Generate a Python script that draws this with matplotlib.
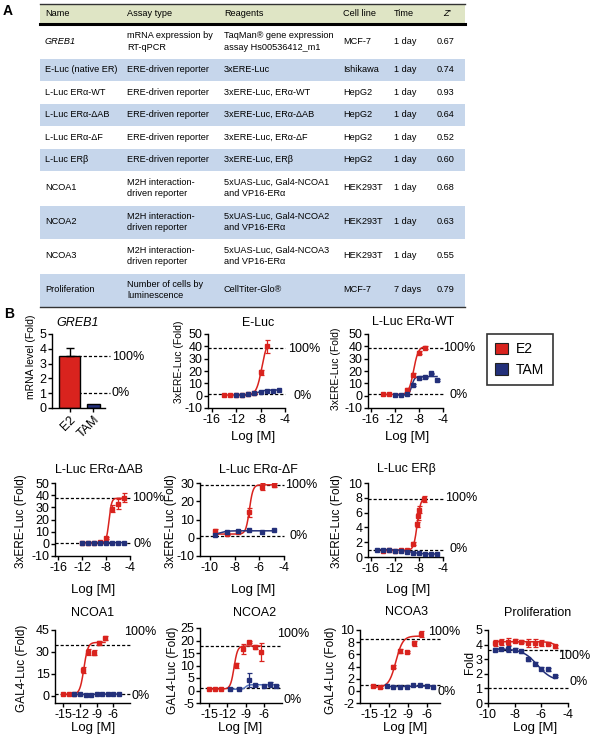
import numpy as np
import matplotlib
matplotlib.use('Agg')
import matplotlib.pyplot as plt
from matplotlib.patches import Rectangle, Patch

plt.rcParams['font.family'] = ['Liberation Sans', 'DejaVu Sans']
plt.rcParams['axes.unicode_minus'] = False

# ---------------- table (panel A) ----------------
TAB_NAMES = ['GREB1', 'E-Luc (native ER)', 'L-Luc ERα-WT', 'L-Luc ERα-ΔAB', 'L-Luc ERα-ΔF',
             'L-Luc ERβ', 'NCOA1', 'NCOA2', 'NCOA3', 'Proliferation']
TAB_ASSAY = ['mRNA expression by\nRT-qPCR'] + ['ERE-driven reporter'] * 5 + \
            ['M2H interaction-\ndriven reporter'] * 3 + ['Number of cells by\nluminescence']
TAB_REAGENTS = ['TaqMan® gene expression\nassay Hs00536412_m1', '3xERE-Luc', '3xERE-Luc, ERα-WT',
                '3xERE-Luc, ERα-ΔAB', '3xERE-Luc, ERα-ΔF', '3xERE-Luc, ERβ',
                '5xUAS-Luc, Gal4-NCOA1\nand VP16-ERα', '5xUAS-Luc, Gal4-NCOA2\nand VP16-ERα',
                '5xUAS-Luc, Gal4-NCOA3\nand VP16-ERα', 'CellTiter-Glo®']
TAB_CELLS = ['MCF-7', 'Ishikawa', 'HepG2', 'HepG2', 'HepG2', 'HepG2', 'HEK293T', 'HEK293T', 'HEK293T', 'MCF-7']
TAB_TIME = ['1 day'] * 9 + ['7 days']
TAB_Z = [0.67, 0.74, 0.93, 0.64, 0.52, 0.60, 0.68, 0.63, 0.55, 0.79]
TAB_HEADER = ['Name', 'Assay type', 'Reagents', 'Cell line', 'Time', "Z'"]

# ---------------- panel B data ----------------
# fits: [value at low dose, value at high dose, logEC50, hill]
GREB1_GROUPS = ['E2', 'TAM']
GREB1_FOLD = [3.5, 0.25]
GREB1_ERR = [0.55, 0.0]
GREB1_REF = [3.5, 1.0]

ELUC_E2_X = [-14, -13, -12, -11, -10, -9, -8, -7]
ELUC_E2_Y = [0.5, 0.5, 0.5, 0.5, 1.0, 2.0, 19.0, 40.0]
ELUC_E2_ERR = [0, 0, 0, 0, 0, 0.5, 2.0, 5.0]
ELUC_TAM_X = [-12, -11, -10, -9, -8, -7, -6, -5]
ELUC_TAM_Y = [0.5, 0.5, 1.0, 2.0, 3.0, 3.5, 4.0, 4.5]
ELUC_TAM_ERR = [0, 0, 0, 0, 0, 0, 0, 0]
ELUC_E2_FIT = [0.5, 45, -7.8, 1.0]
ELUC_TAM_FIT = [0.5, 4.6, -8.5, 0.8]
ELUC_REF = [39, 1]

WT_E2_X = [-14, -13, -10, -9, -8, -7]
WT_E2_Y = [1.0, 1.0, 5.0, 17.0, 35.0, 39.0]
WT_E2_ERR = [0, 0, 1.0, 1.5, 1.0, 1.0]
WT_TAM_X = [-12, -11, -10, -9, -8, -7, -6, -5]
WT_TAM_Y = [0.5, 0.5, 1.0, 8.5, 14.5, 15.0, 18.0, 12.5]
WT_TAM_ERR = [0, 0, 0, 0.8, 1.0, 0.5, 0.5, 0.8]
WT_E2_FIT = [1.0, 40, -8.9, 1.1]
WT_TAM_FIT = [0.5, 15.5, -9.2, 1.8]
WT_REF = [39, 1]

DAB_E2_X = [-12, -11, -10, -9, -8, -7, -6, -5]
DAB_E2_Y = [1.0, 1.0, 1.0, 1.5, 5.0, 29.0, 33.0, 38.0]
DAB_E2_ERR = [0, 0, 0, 0.5, 1.0, 3.0, 4.0, 3.5]
DAB_TAM_X = [-12, -11, -10, -9, -8, -7, -6, -5]
DAB_TAM_Y = [1.0, 0.8, 0.8, 0.9, 1.0, 0.9, 1.0, 1.0]
DAB_TAM_ERR = [0, 0, 0, 0, 0, 0, 0, 0]
DAB_E2_FIT = [1.0, 37.5, -7.5, 2.0]
DAB_TAM_FIT = [0.85, 1.0, -9, 1.0]
DAB_REF = [38, 1]

DF_E2_X = [-9.6, -8.6, -7.7, -6.8, -5.8, -4.8]
DF_E2_Y = [3.5, 2.0, 3.0, 14.0, 28.0, 29.0]
DF_E2_ERR = [1.5, 0.3, 0.5, 2.5, 2.0, 1.0]
DF_TAM_X = [-9.6, -8.6, -7.7, -6.8, -5.8, -4.8]
DF_TAM_Y = [1.5, 3.0, 3.5, 4.0, 3.0, 4.0]
DF_TAM_ERR = [0, 0, 0, 0, 0, 0]
DF_E2_FIT = [2.0, 29.0, -6.8, 3.0]
DF_TAM_FIT = [1.5, 3.8, -9.2, 1.5]
DF_REF = [29, 1]

ERB_E2_X = [-14, -13, -12, -11, -10, -9, -8.4, -8.2, -8.0, -7.2]
ERB_E2_Y = [0.8, 0.9, 0.8, 0.9, 1.0, 1.8, 4.4, 5.5, 6.4, 7.8]
ERB_E2_ERR = [0, 0, 0, 0, 0, 0.2, 0.3, 0.5, 0.5, 0.4]
ERB_TAM_X = [-15, -14, -13, -12, -11, -10, -9, -8, -7, -6, -5]
ERB_TAM_Y = [1.0, 0.95, 0.9, 0.85, 0.8, 0.7, 0.6, 0.5, 0.45, 0.4, 0.4]
ERB_TAM_ERR = [0] * 11
ERB_E2_FIT = [0.9, 8.0, -8.3, 1.5]
ERB_TAM_FIT = [1.0, 0.4, -9.5, 0.5]
ERB_REF = [7.8, 1]

NC1_E2_X = [-15, -14, -13, -11.5, -10.5, -9.5, -8.5, -7.5]
NC1_E2_Y = [1.0, 1.0, 1.0, 17.5, 30.0, 29.5, 36.0, 39.5]
NC1_E2_ERR = [0, 0, 0, 2.0, 2.0, 1.5, 1.5, 1.5]
NC1_TAM_X = [-13, -12, -11, -10, -9, -8, -7, -6, -5]
NC1_TAM_Y = [1.0, 1.0, 0.8, 0.8, 1.0, 1.0, 1.2, 1.2, 1.0]
NC1_TAM_ERR = [0] * 9
NC1_E2_FIT = [1.0, 36.5, -11.3, 1.2]
NC1_TAM_FIT = [0.9, 1.1, -9, 1.0]
NC1_REF = [35, 1]

NC2_E2_X = [-15, -14, -13, -10.5, -9.5, -8.5, -7.5, -6.5]
NC2_E2_Y = [0.6, 0.6, 0.8, 10.2, 16.5, 19.5, 17.5, 15.5]
NC2_E2_ERR = [0, 0, 0, 1.0, 2.0, 0.3, 0.8, 3.5]
NC2_TAM_X = [-11.5, -10, -8.5, -7.5, -6, -5, -4]
NC2_TAM_Y = [0.5, 0.5, 4.2, 2.2, 1.8, 2.5, 2.0]
NC2_TAM_ERR = [0, 0, 2.8, 0.3, 0, 1.0, 0.4]
NC2_E2_FIT = [0.6, 17.8, -10.9, 1.5]
NC2_TAM_FIT = [0.5, 2.3, -9.0, 2.0]
NC2_REF = [18, 1]

NC3_E2_X = [-14.4, -13.4, -11.3, -10.3, -9.2, -8.0, -7.0]
NC3_E2_Y = [0.8, 0.6, 4.0, 6.6, 6.4, 7.8, 9.4]
NC3_E2_ERR = [0.2, 0.2, 0.3, 0.3, 0.2, 0.4, 0.5]
NC3_TAM_X = [-12.3, -11.3, -10.3, -9.2, -8.2, -7.1, -6.1, -5.1]
NC3_TAM_Y = [0.8, 0.7, 0.6, 0.7, 1.0, 0.9, 0.8, 0.6]
NC3_TAM_ERR = [0] * 8
NC3_E2_FIT = [0.6, 9.0, -10.9, 0.8]
NC3_TAM_FIT = [0.7, 0.8, -9, 1.0]
NC3_REF = [8.6, 1]

PRO_X = [-9.5, -9.0, -8.5, -8.0, -7.5, -7.0, -6.5, -6.0, -5.5, -5.0]
PRO_E2_Y = [4.1, 4.2, 4.2, 4.25, 4.2, 4.1, 4.1, 4.1, 4.05, 3.9]
PRO_E2_ERR = [0.2, 0.2, 0.25, 0.1, 0.1, 0.25, 0.25, 0.2, 0.1, 0.1]
PRO_TAM_Y = [3.65, 3.7, 3.7, 3.65, 3.55, 3.0, 2.7, 2.35, 2.3, 1.85]
PRO_TAM_ERR = [0.1, 0.1, 0.2, 0.1, 0.1, 0.1, 0.1, 0.1, 0.1, 0.05]
PRO_E2_FIT = [4.2, 3.6, -4.8, 1.5]
PRO_TAM_FIT = [3.7, 1.5, -6.3, 0.8]
PRO_REF = [3.6, 1]

RED = '#d9231e'
NAVY = '#23307a'
PALE_NAVY = '#5876bd'
ROW_BLUE = '#c6d6eb'
HEAD_BG = '#dfe5c5'

W, H = 590, 743
fig = plt.figure(figsize=(W / 100, H / 100), dpi=100)

# overlay in pixel coordinates for table and free text
ov = fig.add_axes([0, 0, 1, 1])
ov.set_xlim(0, W)
ov.set_ylim(H, 0)
ov.axis('off')


def box(left, top, width, height):
    return fig.add_axes([left / W, 1 - (top + height) / H, width / W, height / H], facecolor='none')


# ---- panel A: table ----
TFS = 6.6
ov.text(3, 4, 'A', fontsize=10, fontweight='bold', va='top')
col_x = [45, 127, 224, 343, 394, 437]
ov.add_patch(Rectangle((40, 4), 425, 19, facecolor=HEAD_BG, edgecolor='none'))
ov.plot([40, 465], [4, 4], color='#333333', lw=1.0)
ov.plot([40, 465], [23.5, 23.5], color='black', lw=2.2)
for x, t in zip(col_x, TAB_HEADER):
    if t == "Z'":
        ov.text(x + 6, 14, t, fontsize=TFS, va='center', style='italic')
    else:
        ov.text(x, 14, t, fontsize=TFS, va='center')

y = 24.5
for i in range(len(TAB_NAMES)):
    cells = [TAB_NAMES[i], TAB_ASSAY[i], TAB_REAGENTS[i], TAB_CELLS[i], TAB_TIME[i], f'{TAB_Z[i]:.2f}']
    nl = max(c.count('\n') + 1 for c in cells)
    h = 22.5 if nl == 1 else 34
    if i % 2 == 1:
        ov.add_patch(Rectangle((40, y + 0.5), 425, h - 1, facecolor=ROW_BLUE, edgecolor='none'))
    for j, (x, c) in enumerate(zip(col_x, cells)):
        ov.text(x, y + h / 2, c, fontsize=TFS, va='center', linespacing=1.3,
                style='italic' if (i == 0 and j == 0) else 'normal')
    y += h
ov.plot([40, 465], [y, y], color='#333333', lw=1.0)

# ---- panel B ----
ov.text(4, 307, 'B', fontsize=10, fontweight='bold', va='top')


def style(ax, xlim, xticks, ylim, yticks):
    ax.set_xlim(xlim)
    ax.set_ylim(ylim)
    ax.set_xticks(xticks)
    ax.set_yticks(yticks)
    for s in ['top', 'right']:
        ax.spines[s].set_visible(False)
    for s in ['left', 'bottom']:
        ax.spines[s].set_linewidth(1.0)
    ax.tick_params(length=3, width=1, labelsize=9, pad=1)


def series(ax, x, yv, err, fit, color, fit_color=None):
    x, yv, err = np.asarray(x, float), np.asarray(yv, float), np.asarray(err, float)
    a, b, c, hill = fit
    xs = np.linspace(x.min(), x.max(), 200)
    ax.plot(xs, a + (b - a) / (1 + 10 ** ((c - xs) * hill)), color=fit_color or color, lw=1.1, zorder=3)
    m = err > 0
    ax.errorbar(x[m], yv[m], yerr=err[m], fmt='none', ecolor=color, elinewidth=0.9,
                capsize=1.8, capthick=0.9, zorder=4)
    ax.plot(x, yv, 's', color=color, ms=2.6, zorder=5)


def refs(ax, levels, xmin=0.0, xmax=1.0):
    for lv in levels:
        ax.axhline(lv, xmin=xmin, xmax=xmax, color='black', lw=0.9, ls=(0, (2.5, 1.6)),
                   clip_on=False, zorder=1)


# GREB1 bar chart
ax = box(52, 334, 53, 74)
style(ax, (-0.75, 1.5), [0, 1], (0, 5), range(0, 6))
ax.bar([0, 1], GREB1_FOLD, width=[0.9, 0.55], color=[RED, NAVY], edgecolor='black', lw=1, zorder=2)
ax.errorbar([0], [GREB1_FOLD[0]], yerr=[[0], [GREB1_ERR[0]]], fmt='none', ecolor='black',
            elinewidth=1, capsize=3, capthick=1, zorder=3)
refs(ax, GREB1_REF, xmin=0.4, xmax=1.1)
ax.set_xticklabels(GREB1_GROUPS, rotation=45, ha='right', rotation_mode='anchor')
ov.text(78, 323, 'GREB1', fontsize=9, style='italic', ha='center', va='center')
ov.text(31, 357, 'mRNA level (Fold)', fontsize=7.5, rotation=90, ha='center', va='center')
ov.text(112, 357, '100%', fontsize=9, va='center')
ov.text(112, 393, '0%', fontsize=9, va='center')

x16 = [-16, -12, -8, -4]
x15 = [-15, -12, -9, -6]
PANELS = [
    dict(box=(208, 334, 77, 74), xlim=(-16.6, -4), xt=x16, ylim=(-10, 50), yt=range(-10, 51, 10),
         data=[(ELUC_E2_X, ELUC_E2_Y, ELUC_E2_ERR, ELUC_E2_FIT, RED, None),
               (ELUC_TAM_X, ELUC_TAM_Y, ELUC_TAM_ERR, ELUC_TAM_FIT, NAVY, None)],
         ref=ELUC_REF, title='E-Luc', t_xy=(258, 323), yl='3xERE-Luc (Fold)', yl_xy=(179, 362), yl_fs=7.5,
         xl_xy=(253, 437), pct=[(288, 349), (294, 396)]),
    dict(box=(368, 334, 75, 74), xlim=(-16.5, -4), xt=x16, ylim=(-10, 50), yt=range(-10, 51, 10),
         data=[(WT_E2_X, WT_E2_Y, WT_E2_ERR, WT_E2_FIT, RED, None),
               (WT_TAM_X, WT_TAM_Y, WT_TAM_ERR, WT_TAM_FIT, NAVY, None)],
         ref=WT_REF, title='L-Luc ERα-WT', t_xy=(413, 322), yl='3xERE-Luc (Fold)', yl_xy=(336, 369), yl_fs=7.5,
         xl_xy=(407, 437), pct=[(443, 348), (450, 395)]),
    dict(box=(55, 483, 75, 73), xlim=(-16.5, -4), xt=x16, ylim=(-10, 50), yt=range(-10, 51, 10),
         data=[(DAB_E2_X, DAB_E2_Y, DAB_E2_ERR, DAB_E2_FIT, RED, None),
               (DAB_TAM_X, DAB_TAM_Y, DAB_TAM_ERR, DAB_TAM_FIT, NAVY, None)],
         ref=DAB_REF, title='L-Luc ERα-ΔAB', t_xy=(99, 470), yl='3xERE-Luc (Fold)', yl_xy=(21, 521), yl_fs=8.5,
         xl_xy=(93, 590), pct=[(132, 498), (133, 544)]),
    dict(box=(200, 483, 84, 73), xlim=(-10.8, -4), xt=[-10, -8, -6, -4], ylim=(-10, 30), yt=range(-10, 31, 10),
         data=[(DF_E2_X, DF_E2_Y, DF_E2_ERR, DF_E2_FIT, RED, None),
               (DF_TAM_X, DF_TAM_Y, DF_TAM_ERR, DF_TAM_FIT, NAVY, None)],
         ref=DF_REF, title='L-Luc ERα-ΔF', t_xy=(258, 470), yl='3xERE-Luc (Fold)', yl_xy=(171, 521), yl_fs=8.5,
         xl_xy=(253, 590), pct=[(285, 485), (290, 536)]),
    dict(box=(368, 483, 75, 74), xlim=(-16.5, -4), xt=x16, ylim=(0, 10), yt=range(0, 11, 2),
         data=[(ERB_E2_X, ERB_E2_Y, ERB_E2_ERR, ERB_E2_FIT, RED, None),
               (ERB_TAM_X, ERB_TAM_Y, ERB_TAM_ERR, ERB_TAM_FIT, NAVY, None)],
         ref=ERB_REF, title='L-Luc ERβ', t_xy=(406, 469), yl='3xERE-Luc (Fold)', yl_xy=(337, 521), yl_fs=8.5,
         xl_xy=(408, 590), pct=[(445, 498), (450, 549)]),
    dict(box=(55, 630, 75, 73), xlim=(-16.5, -3), xt=x15, ylim=(-5, 45), yt=[0, 15, 30, 45],
         data=[(NC1_E2_X, NC1_E2_Y, NC1_E2_ERR, NC1_E2_FIT, RED, None),
               (NC1_TAM_X, NC1_TAM_Y, NC1_TAM_ERR, NC1_TAM_FIT, NAVY, None)],
         ref=NC1_REF, title='NCOA1', t_xy=(93, 613), yl='GAL4-Luc (Fold)', yl_xy=(22, 668), yl_fs=8.5,
         xl_xy=(93, 728), pct=[(124, 632), (132, 696)]),
    dict(box=(200, 628, 82, 75), xlim=(-16.5, -3), xt=x15, ylim=(-5, 25), yt=range(-5, 26, 5),
         data=[(NC2_E2_X, NC2_E2_Y, NC2_E2_ERR, NC2_E2_FIT, RED, None),
               (NC2_TAM_X, NC2_TAM_Y, NC2_TAM_ERR, NC2_TAM_FIT, NAVY, PALE_NAVY)],
         ref=NC2_REF, title='NCOA2', t_xy=(255, 613), yl='GAL4-Luc (Fold)', yl_xy=(173, 670), yl_fs=8.5,
         xl_xy=(240, 728), pct=[(277, 634), (283, 700)]),
    dict(box=(360, 630, 80, 73), xlim=(-16.5, -4), xt=x15, ylim=(-2, 10), yt=range(-2, 11, 2),
         data=[(NC3_E2_X, NC3_E2_Y, NC3_E2_ERR, NC3_E2_FIT, RED, None),
               (NC3_TAM_X, NC3_TAM_Y, NC3_TAM_ERR, NC3_TAM_FIT, NAVY, None)],
         ref=NC3_REF, title='NCOA3', t_xy=(407, 612), yl='GAL4-Luc (Fold)', yl_xy=(331, 670), yl_fs=8.5,
         xl_xy=(405, 728), pct=[(428, 632), (437, 692)]),
    dict(box=(488, 630, 80, 73), xlim=(-10, -4), xt=[-10, -8, -6, -4], ylim=(0, 5), yt=range(0, 6),
         data=[(PRO_X, PRO_E2_Y, PRO_E2_ERR, PRO_E2_FIT, RED, None),
               (PRO_X, PRO_TAM_Y, PRO_TAM_ERR, PRO_TAM_FIT, NAVY, None)],
         ref=PRO_REF, title='Proliferation', t_xy=(538, 613), yl='Fold', yl_xy=(470, 662), yl_fs=8.5,
         xl_xy=(535, 728), pct=[(558, 656), (569, 682)]),
]

for p in PANELS:
    ax = box(*p['box'])
    style(ax, p['xlim'], p['xt'], p['ylim'], p['yt'])
    refs(ax, p['ref'])
    for xs_, ys_, es_, fit, col, fcol in p['data']:
        series(ax, xs_, ys_, es_, fit, col, fcol)
    ov.text(*p['t_xy'], p['title'], fontsize=9, ha='center', va='center')
    ov.text(*p['yl_xy'], p['yl'], fontsize=p['yl_fs'], rotation=90, ha='center', va='center')
    ov.text(*p['xl_xy'], 'Log [M]', fontsize=9.5, ha='center', va='center')
    for (tx, ty), lab in zip(p['pct'], ['100%', '0%']):
        ov.text(tx, ty, lab, fontsize=9, va='center')

leg = fig.legend(handles=[Patch(facecolor=RED, edgecolor='#222222', lw=0.8, label='E2'),
                          Patch(facecolor=NAVY, edgecolor='#222222', lw=0.8, label='TAM')],
                 loc='upper left', bbox_to_anchor=(487 / W, 1 - 334 / H), frameon=True, fancybox=False,
                 edgecolor='black', fontsize=10, handlelength=0.9, handleheight=0.9,
                 borderpad=0.6, labelspacing=0.45, handletextpad=0.6, borderaxespad=0)
leg.get_frame().set_linewidth(1.2)

fig.savefig('out.png', dpi=100)
